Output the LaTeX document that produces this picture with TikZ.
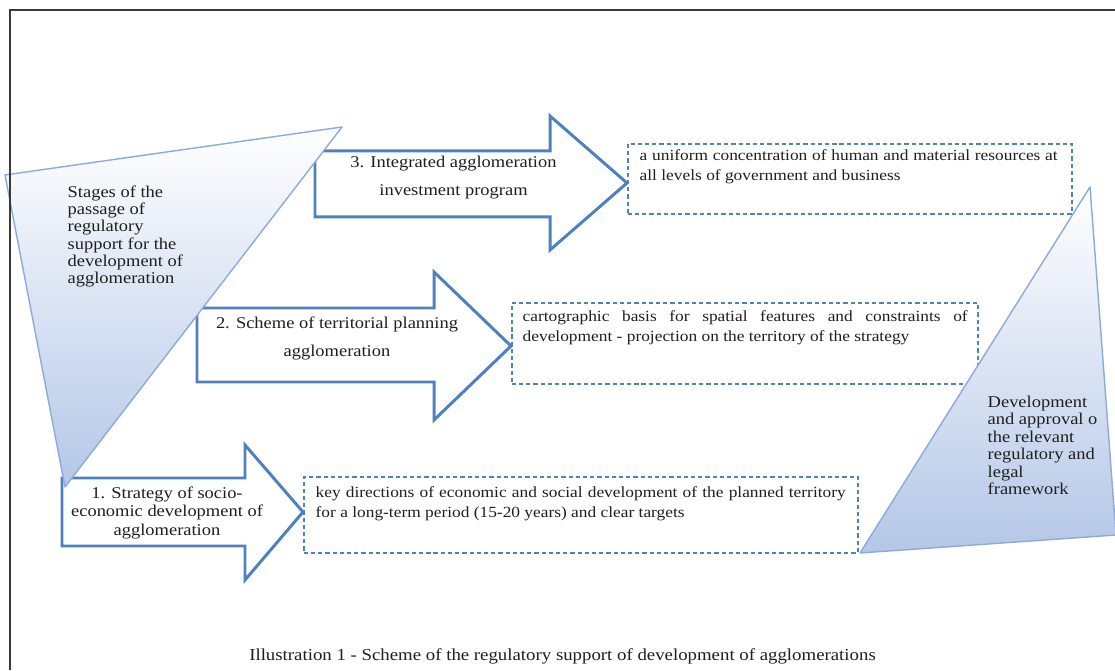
\documentclass[tikz,border=0pt]{standalone}
\usepackage{fontspec}
\setmainfont{Liberation Serif}[FakeStretch=1.12]
\usepackage{xcolor}
\usepackage{tikz}
\definecolor{AGBlue}{HTML}{4F81BD}
\definecolor{AGTriLine}{HTML}{8EAADB}
\definecolor{AGTriFill}{HTML}{B4C7E7}
\definecolor{AGFrame}{HTML}{3A3A3A}
\definecolor{AGText}{HTML}{1F1F1F}

\begin{document}
\begin{tikzpicture}[x=1cm,y=1cm,
  stagearrow/.style={draw=AGBlue,line width=.85pt,fill=white,line join=miter},
  descbox/.style={draw=AGBlue,line width=.45pt,dash pattern=on 1.2pt off .85pt,inner sep=0pt,anchor=north west},
  desctext/.style={anchor=north west,inner sep=0pt,align=left,text=AGText,font=\fontsize{4.41}{5.69}\selectfont},
  stagetext/.style={anchor=north,inner sep=0pt,align=center,text=AGText},
  tritext/.style={anchor=north west,inner sep=0pt,align=left,text=AGText,font=\fontsize{4.69}{4.95}\selectfont},
  tri/.style={draw=AGTriLine,line width=.4pt,top color=white,bottom color=AGTriFill,line join=round}]
\path[use as bounding box] (0,0) rectangle (11.15,6.70);
\fill[white] (0,0) rectangle (11.15,6.70);
% dashed result boxes
\node[descbox,minimum width=4.44cm,minimum height=0.70cm] (desc3) at (6.27,5.27) {};
\node[descbox,minimum width=4.66cm,minimum height=0.81cm] (desc2) at (5.11,3.68) {};
\node[descbox,minimum width=5.54cm,minimum height=0.76cm] (desc1) at (3.03,1.94) {};
% block arrows of the three stages
\draw[stagearrow] (3.15,5.19) -- (5.50,5.19) -- (5.50,5.54) -- (desc3.west |- 0,4.87)
  -- (5.50,4.20) -- (5.50,4.53) -- (3.15,4.53) -- cycle;
\draw[stagearrow] (1.97,3.62) -- (4.34,3.62) -- (4.34,3.98) -- (desc2.west |- 0,3.24)
  -- (4.34,2.50) -- (4.34,2.88) -- (1.97,2.88) -- cycle;
\draw[stagearrow] (0.62,1.92) -- (2.45,1.92) -- (2.45,2.25) -- (desc1.west |- 0,1.58)
  -- (2.45,0.90) -- (2.45,1.24) -- (0.62,1.24) -- cycle;
\node[stagetext,font=\fontsize{4.69}{8.05}\selectfont] (stage3) at (4.535,5.146) {3. Integrated agglomeration\\investment program};
\node[stagetext,font=\fontsize{4.69}{8.05}\selectfont] (stage2) at (3.37,3.543) {2. Scheme of territorial planning\\agglomeration};
\node[stagetext,font=\fontsize{4.69}{5.29}\selectfont] (stage1) at (1.67,1.843) {1. Strategy of socio-\\economic development of\\agglomeration};
\node[desctext] (text3) at (6.39,5.213) {\hbox to 4.18cm{a uniform concentration of human and material resources at}\\all levels of government and business};
\node[desctext] (text2) at (5.22,3.606) {\hbox to 4.45cm{cartographic basis for spatial features and constraints of}\\development - projection on the territory of the strategy};
\node[desctext] (text1) at (3.15,1.846) {\hbox to 5.30cm{key directions of economic and social development of the planned territory}\\for a long-term period (15-20 years) and clear targets};
% side triangles
\path[tri] (0.05,4.95) -- (3.42,5.43) -- (0.65,1.83) -- cycle;
\path[tri] (10.90,4.83) -- (8.60,1.17) -- (11.16,1.35) -- cycle;
\node[tritext] (stagesnote) at (0.67,4.853) {Stages of the\\passage of\\regulatory\\support for the\\development of\\agglomeration};
\node[tritext] (legalnote) at (9.87,2.746) {Development\\and approval o\\the relevant\\regulatory and\\legal\\framework};
\node[anchor=base,inner sep=0pt,text=AGText,font=\fontsize{4.78}{5.7}\selectfont] (caption) at (5.625,0.10) {Illustration 1 - Scheme of the regulatory support of development of agglomerations};
\draw[AGFrame,line width=.55pt] (0.10,0) -- (0.10,6.60) -- (11.15,6.60);
\end{tikzpicture}
\end{document}
